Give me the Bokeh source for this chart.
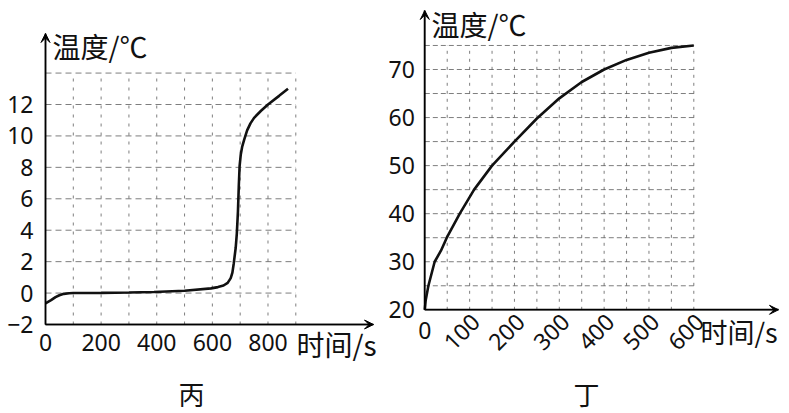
import math
from bokeh.plotting import figure
from bokeh.layouts import row
from bokeh.models import Range1d, LinearAxis, FixedTicker, Arrow, VeeHead, Label
from bokeh.embed import file_html
from bokeh.resources import INLINE

# ---------------- data: chart 丙 ----------------
t_bing = [0, 20, 36, 50, 66, 85, 100, 200, 300, 390, 500, 595, 620, 640, 655, 666, 672,
          677, 684, 688, 692, 695, 698, 702, 707, 715, 725, 737, 750, 775, 800, 840, 872]
T_bing = [-0.65, -0.45, -0.26, -0.14, -0.05, -0.01, 0.0, 0.01, 0.04, 0.07, 0.15, 0.3, 0.38,
          0.48, 0.65, 0.95, 1.3, 1.9, 2.9, 3.8, 5.2, 6.8, 8.1, 8.8, 9.3, 9.8, 10.35, 10.8,
          11.15, 11.6, 12.0, 12.55, 13.0]
xticks_bing = [0, 200, 400, 600, 800]
yticks_bing = [-2, 0, 2, 4, 6, 8, 10, 12]
gridx_bing = [100, 200, 300, 400, 500, 600, 700, 800, 900]
gridy_bing = [0, 2, 4, 6, 8, 10, 12, 14]

# ---------------- data: chart 丁 ----------------
t_ding = [0, 2, 8, 15, 22, 36, 49, 78, 110, 150, 200, 250, 300, 350, 400, 450, 500, 550, 600]
T_ding = [20, 22, 25, 27.5, 30, 32.3, 35, 40, 45, 50, 55, 59.8, 64.0, 67.4, 70, 72, 73.5, 74.5, 75]
xticks_ding_rot = [100, 200, 300, 400, 500, 600]
xticks_ding_zero = [0]
yticks_ding = [20, 30, 40, 50, 60, 70]
gridx_ding = [50, 100, 150, 200, 250, 300, 350, 400, 450, 500, 550, 600]
gridy_ding = [25, 30, 35, 40, 45, 50, 55, 60, 65, 70, 75]

NUM_FONT = "Noto Sans"
NUM_SIZE = "23px"
CJK_FONT = "Noto Sans CJK SC"
INK = "#111111"


def make_ranges(page_left, width, page_top, height, xa, xb, ya, yb):
    sx = (xb[1] - xa[1]) / (xb[0] - xa[0])
    x0 = xa[0] + (page_left - xa[1]) / sx
    x1 = xa[0] + (page_left + width - xa[1]) / sx
    sy = (ya[1] - yb[1]) / (yb[0] - ya[0])
    y_top = ya[0] + (ya[1] - page_top) / sy
    y_bot = ya[0] - (page_top + height - ya[1]) / sy
    px2x = lambda px: xa[0] + (px - xa[1]) / sx
    px2y = lambda py: ya[0] + (ya[1] - py) / sy
    return Range1d(x0, x1), Range1d(y_bot, y_top), px2x, px2y, sx


def base_fig(w, h, xr, yr):
    p = figure(width=w, height=h, x_range=xr, y_range=yr, output_backend="svg",
               toolbar_location=None, x_axis_location=None, y_axis_location=None,
               min_border=0, min_border_left=0, min_border_right=0,
               min_border_top=0, min_border_bottom=0)
    p.outline_line_color = None
    p.xgrid.visible = False
    p.ygrid.visible = False
    p.background_fill_color = "white"
    p.border_fill_color = "white"
    return p


def style_axis(ax, standoff, orientation=None):
    ax.major_tick_line_color = None
    ax.minor_tick_line_color = None
    ax.axis_line_color = "black"
    ax.axis_line_width = 1.5
    ax.major_label_text_font = NUM_FONT
    ax.major_label_text_font_size = NUM_SIZE
    ax.major_label_text_color = INK
    ax.major_label_standoff = standoff
    if orientation is not None:
        ax.major_label_orientation = orientation


def add_grid(p, gx, gy, x0, x1, y0, y1, hdash, vdash):
    p.segment(x0=[x0] * len(gy), y0=gy, x1=[x1] * len(gy), y1=gy,
              line_color="#555555", line_width=0.9, line_dash=hdash, line_alpha=0.85)
    p.segment(x0=gx, y0=[y0] * len(gx), x1=gx, y1=[y1] * len(gx),
              line_color="#555555", line_width=0.9, line_dash=vdash, line_alpha=0.85)


def head():
    return VeeHead(size=9, fill_color="black", line_color="black", line_width=1)


def label(p, x, y, text, size, align="left"):
    p.add_layout(Label(x=x, y=y, text=text, text_font=CJK_FONT, text_font_size=size,
                       text_align=align, text_baseline="middle", text_color=INK))


H = 413
# ================= figure 丙 =================
W1 = 382
xr1, yr1, px2x1, px2y1, _ = make_ranges(0, W1, 0, H, (0, 45), (900, 295.3), (-2, 324), (12, 104))
p1 = base_fig(W1, H, xr1, yr1)
add_grid(p1, gridx_bing, gridy_bing, 0, max(gridx_bing), yticks_bing[0], max(gridy_bing), "6 4", "3 6")

xtip1 = px2x1(373)
ytip1 = px2y1(33)
xax1 = LinearAxis(ticker=FixedTicker(ticks=xticks_bing), fixed_location=yticks_bing[0],
                  bounds=(0, xtip1))
style_axis(xax1, 3)
p1.add_layout(xax1, "below")
yax1 = LinearAxis(ticker=FixedTicker(ticks=yticks_bing), fixed_location=0,
                  bounds=(yticks_bing[0], ytip1),
                  major_label_overrides={-2: "\u22122"})
style_axis(yax1, 6)
p1.add_layout(yax1, "left")

p1.add_layout(Arrow(end=head(), x_start=0, y_start=yticks_bing[0], x_end=xtip1,
                    y_end=yticks_bing[0], line_width=1.5, line_color="black"))
p1.add_layout(Arrow(end=head(), x_start=0, y_start=yticks_bing[0], x_end=0, y_end=ytip1,
                    line_width=1.5, line_color="black"))

p1.line(t_bing, T_bing, line_color=INK, line_width=2.6)

label(p1, px2x1(52), px2y1(45), "温度/℃", "28px")
label(p1, px2x1(296), px2y1(343), "时间/s", "28px")
label(p1, px2x1(191), px2y1(393), "丙", "26px", "center")

# ================= figure 丁 =================
W2 = 789 - W1
xr2, yr2, px2x2, px2y2, sx2 = make_ranges(W1, W2, 0, H, (0, 424.3), (600, 693.3), (20, 309.3), (70, 69))
p2 = base_fig(W2, H, xr2, yr2)
# rotated tick labels sit a little to the right of their ticks in the reference
shift = 6 / sx2
p2.extra_x_ranges = {"lab": Range1d(xr2.start - shift, xr2.end - shift)}
add_grid(p2, gridx_ding, gridy_ding, 0, max(gridx_ding), yticks_ding[0], max(gridy_ding), "5 3", "3 5")

xtip2 = px2x2(778)
ytip2 = px2y2(10)
xax2a = LinearAxis(ticker=FixedTicker(ticks=xticks_ding_zero), fixed_location=yticks_ding[0],
                   bounds=(0, xtip2))
style_axis(xax2a, 6)
p2.add_layout(xax2a, "below")
xax2b = LinearAxis(ticker=FixedTicker(ticks=xticks_ding_rot), fixed_location=yticks_ding[0],
                   x_range_name="lab")
style_axis(xax2b, 2, orientation=math.pi / 4)
xax2b.axis_line_color = None
p2.add_layout(xax2b, "below")
yax2 = LinearAxis(ticker=FixedTicker(ticks=yticks_ding), fixed_location=0,
                  bounds=(yticks_ding[0], ytip2))
style_axis(yax2, 4)
p2.add_layout(yax2, "left")

p2.add_layout(Arrow(end=head(), x_start=0, y_start=yticks_ding[0], x_end=xtip2,
                    y_end=yticks_ding[0], line_width=1.5, line_color="black"))
p2.add_layout(Arrow(end=head(), x_start=0, y_start=yticks_ding[0], x_end=0, y_end=ytip2,
                    line_width=1.5, line_color="black"))

p2.line(t_ding, T_ding, line_color=INK, line_width=2.6)

label(p2, px2x2(431), px2y2(23), "温度/℃", "28px")
label(p2, px2x2(700), px2y2(331), "时间/s", "27px")
label(p2, px2x2(586), px2y2(393), "丁", "26px", "center")

layout = row(p1, p2, spacing=0)
open("out.html", "w").write(file_html(layout, INLINE))
